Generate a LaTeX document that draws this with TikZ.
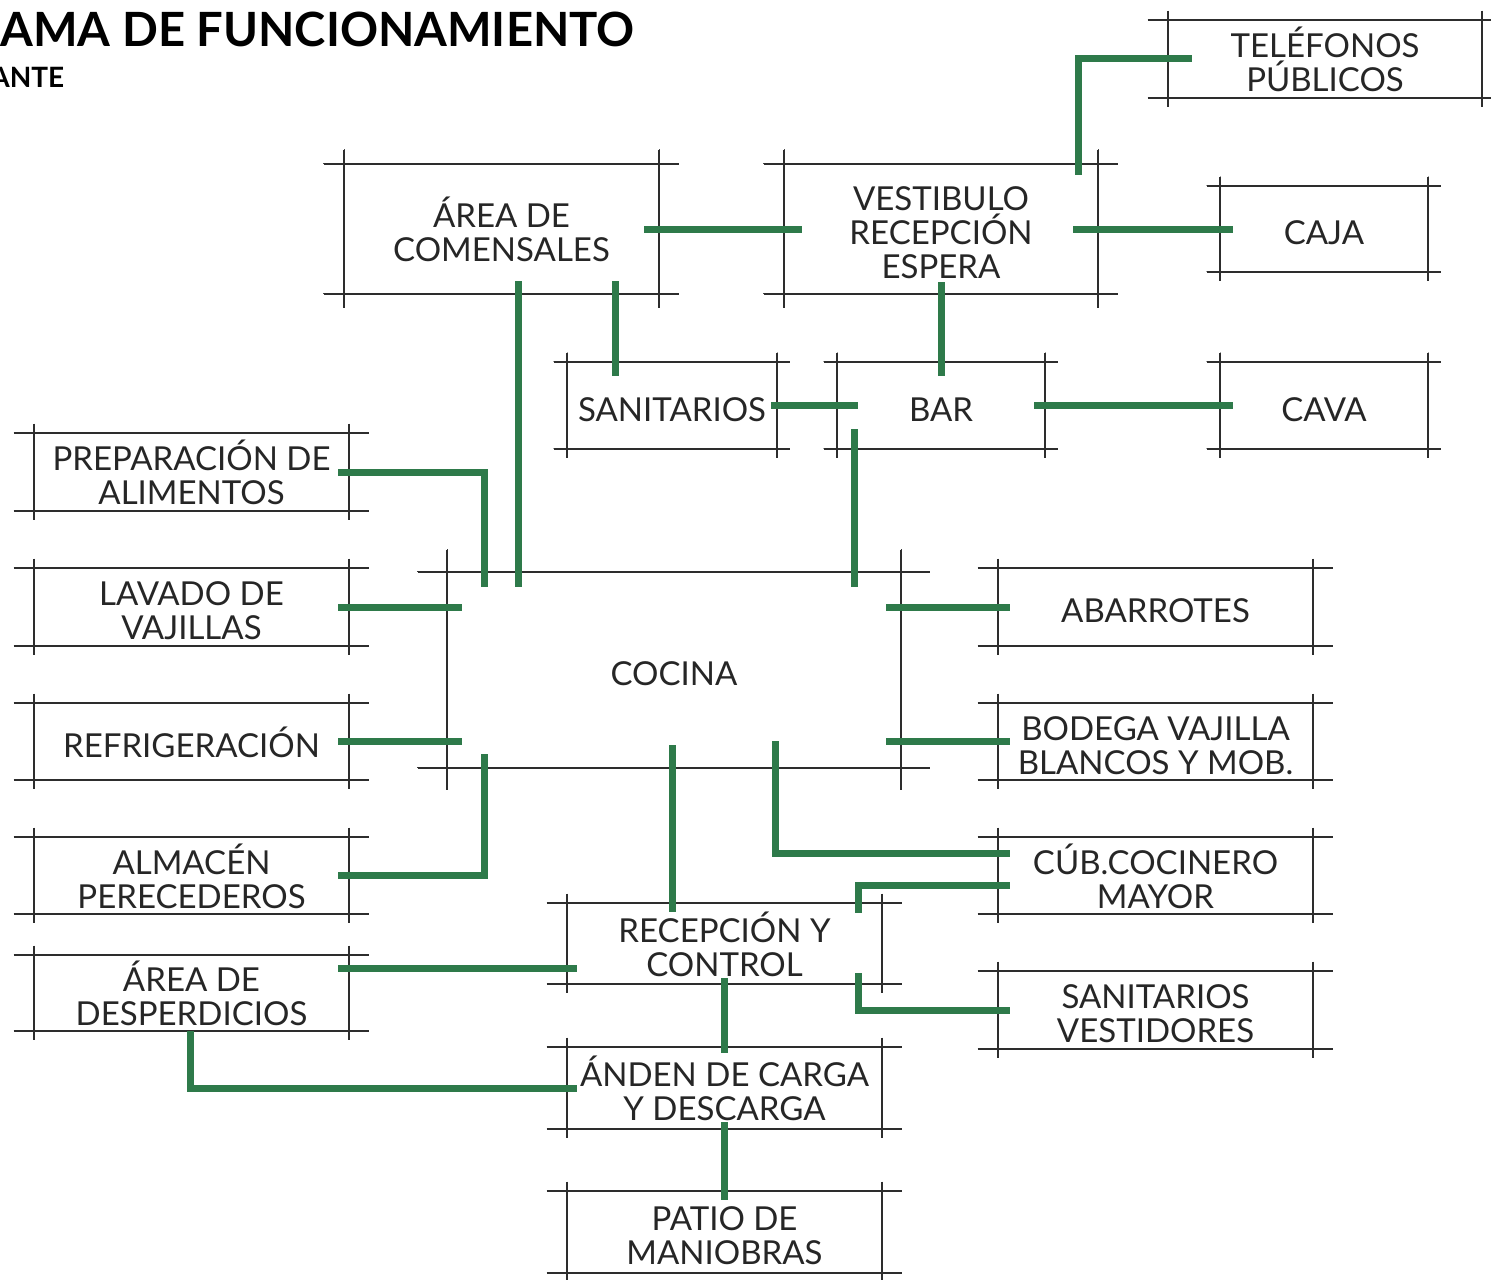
\documentclass[tikz,border=0pt]{standalone}
\usepackage{fontspec}
\setmainfont{Lato}
\usepackage{tikz}

\definecolor{planline}{RGB}{45,45,45}
\definecolor{linkgreen}{RGB}{46,122,74}
\newcommand{\roomfont}{\fontsize{16.5}{17}\selectfont}
\newcommand{\titlefont}{\bfseries\fontsize{23.6}{26}\selectfont}
\newcommand{\roomframe}[3]{%
\draw[frame] ([xshift=-#2]#1.north west) -- ([xshift=#2]#1.north east);
\draw[frame] ([xshift=-#2]#1.south west) -- ([xshift=#2]#1.south east);
\draw[frame] ([yshift=#3]#1.north west) -- ([yshift=-#3]#1.south west);
\draw[frame] ([yshift=#3]#1.north east) -- ([yshift=-#3]#1.south east);}

\begin{document}
\begin{tikzpicture}[x=0.5pt,y=-0.5pt,
  room/.style={inner sep=0pt,align=center,text=black!85,font=\roomfont,
    text height=15.8pt,text depth=0pt,
    minimum width=157.5pt,minimum height=39pt},
  two/.style={text height=32.8pt},
  three/.style={text height=49.8pt},
  small/.style={minimum width=104pt,minimum height=43.5pt},
  frame/.style={draw=planline,line width=1pt},
  link/.style={draw=linkgreen,line width=3.5pt}]
\useasboundingbox (0,0) rectangle (1491,1279);
\node[anchor=base west,inner sep=0pt,font=\titlefont] (titulo) at (0,47) {AMA DE FUNCIONAMIENTO};
\node[anchor=base west,inner sep=0pt,font=\bfseries\fontsize{14}{16}\selectfont] (subtitulo) at (-10,88) {ANTE};
\node[room,two,minimum width=157pt] (tel) at (1325,59) {TELÉFONOS\\PÚBLICOS};
\node[room,two,minimum height=65pt] (comensales) at (501.5,229) {ÁREA DE\\COMENSALES};
\node[room,three,minimum width=157pt,minimum height=65pt] (vestibulo) at (941,229) {VESTIBULO\\RECEPCIÓN\\ESPERA};
\node[room,small,minimum height=43pt] (caja) at (1324,229) {CAJA};
\node[room,small,minimum width=105pt] (sanitarios) at (672,405.5) {SANITARIOS};
\node[room,small] (bar) at (941,405.5) {BAR};
\node[room,small] (cava) at (1324,405.5) {CAVA};
\node[room,two] (preparacion) at (191.5,472) {PREPARACIÓN DE\\ALIMENTOS};
\node[room,two] (lavado) at (191.5,607) {LAVADO DE\\VAJILLAS};
\node[room,minimum height=38.5pt] (refrigeracion) at (191.5,741.5) {REFRIGERACIÓN};
\node[room,two,minimum height=38.5pt] (almacen) at (191.5,875.5) {ALMACÉN\\PERECEDEROS};
\node[room,two,minimum height=38pt] (desperdicios) at (191.5,993) {ÁREA DE\\DESPERDICIOS};
\node[room,minimum width=227pt,minimum height=98pt] (cocina) at (674,670) {COCINA};
\node[room] (abarrotes) at (1155.5,607) {ABARROTES};
\node[room,two,minimum height=38.5pt] (bodega) at (1155.5,741.5) {BODEGA VAJILLA\\BLANCOS Y MOB.};
\node[room,two,minimum height=38.5pt] (cubiculo) at (1155.5,875.5) {CÚB.COCINERO\\MAYOR};
\node[room,two] (vestidores) at (1155.5,1010) {SANITARIOS\\VESTIDORES};
\node[room,two,minimum height=40.5pt] (recepcion) at (724.5,943.5) {RECEPCIÓN Y\\CONTROL};
\node[room,two,minimum height=41pt] (anden) at (724.5,1088) {ÁNDEN DE CARGA\\Y DESCARGA};
\node[room,two,minimum height=41pt] (patio) at (724.5,1232) {PATIO DE\\MANIOBRAS};
\foreach \r in {tel,preparacion,lavado,refrigeracion,almacen,desperdicios,
  abarrotes,bodega,cubiculo,vestidores,recepcion,anden,patio}
  \roomframe{\r}{10pt}{4.5pt}
\foreach \r in {caja,sanitarios,bar,cava}
  \roomframe{\r}{6.5pt}{4.5pt}
\foreach \r in {comensales,vestibulo}
  \roomframe{\r}{10pt}{7pt}
\roomframe{cocina}{14.5pt}{11pt}
\draw[link] ([xshift=12pt]tel.west) -| ([xshift=68.5pt,yshift=-5.5pt]vestibulo.north);
\draw[link] ([xshift=-7.5pt]comensales.east) -- ([xshift=9pt]vestibulo.west);
\draw[link] ([xshift=-12.5pt]vestibulo.east) -- ([xshift=6.5pt]caja.west);
\draw[link] ([yshift=6pt]vestibulo.south) -- ([yshift=-7pt]bar.north);
\draw[link] ([xshift=56.75pt,yshift=6.5pt]comensales.south) -- ([xshift=-28.5pt,yshift=-7pt]sanitarios.north);
\draw[link] ([xshift=-3pt]sanitarios.east) -- ([xshift=10.5pt]bar.west);
\draw[link] ([xshift=-5.5pt]bar.east) -- ([xshift=6.5pt]cava.west);
\draw[link] ([xshift=-43.5pt,yshift=10pt]bar.south) -- ([xshift=90pt,yshift=-7.5pt]cocina.north);
\draw[link] ([xshift=8.25pt,yshift=6.5pt]comensales.south) -- ([xshift=-78pt,yshift=-7.5pt]cocina.north);
\draw[link] ([xshift=-5.5pt]preparacion.east) -| ([xshift=-95pt,yshift=-7.5pt]cocina.north);
\draw[link] ([xshift=-5.5pt]lavado.east) -- ([xshift=7.5pt,yshift=31.5pt]cocina.west);
\draw[link] ([xshift=-5.5pt]refrigeracion.east) -- ([xshift=7.5pt,yshift=-35.75pt]cocina.west);
\draw[link] ([xshift=-5.5pt]almacen.east) -| ([xshift=-95pt,yshift=7pt]cocina.south);
\draw[link] ([xshift=-1pt,yshift=11.5pt]cocina.south) -- ([xshift=-26.25pt,yshift=-4.5pt]recepcion.north);
\draw[link] ([xshift=50.5pt,yshift=13.5pt]cocina.south) |- ([xshift=6pt,yshift=11.25pt]cubiculo.west);
\draw[link] ([xshift=-7.5pt,yshift=31.5pt]cocina.east) -- ([xshift=6pt]abarrotes.west);
\draw[link] ([xshift=-7.5pt,yshift=-35.75pt]cocina.east) -- ([xshift=6pt]bodega.west);
\draw[link] ([xshift=66.75pt,yshift=-5pt]recepcion.north) |- ([xshift=6pt,yshift=-4.75pt]cubiculo.west);
\draw[link] ([xshift=66.75pt,yshift=5.5pt]recepcion.south) |- ([xshift=6pt]vestidores.west);
\draw[link] ([xshift=-5.5pt,yshift=12.5pt]desperdicios.east) -- ([xshift=5pt,yshift=-12.25pt]recepcion.west);
\draw[link] ([yshift=3pt]recepcion.south) -- ([yshift=-3pt]anden.north);
\draw[link] ([xshift=-0.75pt]desperdicios.south) |- ([xshift=5pt]anden.west);
\draw[link] ([yshift=3.5pt]anden.south) -- ([yshift=-4.5pt]patio.north);
\end{tikzpicture}
\end{document}
